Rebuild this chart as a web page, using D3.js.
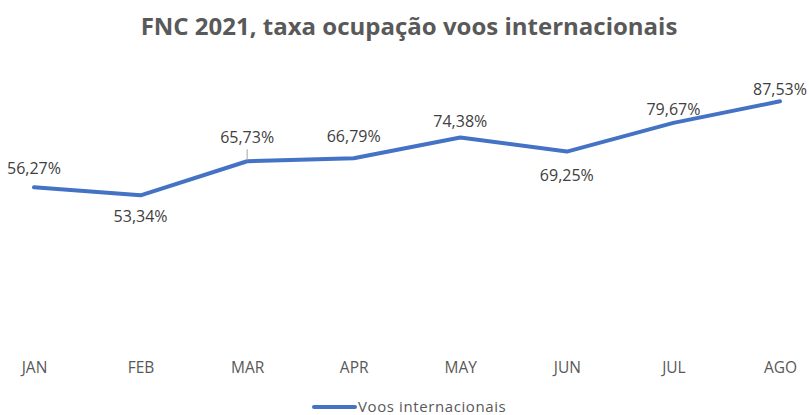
<!DOCTYPE html>
<html>
<head>
<meta charset="utf-8">
<script src="https://cdn.jsdelivr.net/npm/d3@7"></script>
<style>
  body { margin: 0; background: #fff; }
  svg { font-family: "Open Sans", sans-serif; }
</style>
</head>
<body>
<svg id="chart"></svg>
<script>
// data
const months = ["JAN", "FEB", "MAR", "APR", "MAY", "JUN", "JUL", "AGO"];
const occupancy = [56.27, 53.34, 65.73, 66.79, 74.38, 69.25, 79.67, 87.53];
const seriesName = "Voos internacionais";
const title = "FNC 2021, taxa ocupação voos internacionais";

// label placement (baseline offset from point), like the hand-moved excel labels
const labelDy = [-13, 27, -18, -16, -10, 29, -8, -6];

const width = 809, height = 415;

const svg = d3.select("#chart")
    .attr("width", width)
    .attr("height", height);

svg.append("text")
    .attr("x", 409)
    .attr("y", 35)
    .attr("text-anchor", "middle")
    .attr("font-size", "24px")
    .attr("font-weight", "bold")
    .attr("fill", "#595959")
    .text(title);

// scales
const x = d3.scalePoint()
    .domain(months)
    .range([34, 780]);

const y = d3.scaleLinear()
    .domain([0, 100])
    .range([342, 67]);

const data = months.map((m, i) => ({ month: m, value: occupancy[i], dy: labelDy[i] }));

// category axis, no line or ticks
const xAxis = svg.append("g")
    .attr("transform", "translate(0, 361)")
    .call(d3.axisBottom(x).tickSize(0).tickPadding(0));
xAxis.select(".domain").remove();
xAxis.selectAll("text")
    .attr("font-family", "Open Sans, sans-serif")
    .attr("font-size", "15.5px")
    .attr("fill", "#595959")
    .attr("dy", "0.75em");

// line
const line = d3.line()
    .x(d => x(d.month))
    .y(d => y(d.value));

svg.append("path")
    .datum(data)
    .attr("fill", "none")
    .attr("stroke", "#4472C4")
    .attr("stroke-width", 4)
    .attr("stroke-linecap", "round")
    .attr("stroke-linejoin", "round")
    .attr("d", line);

// leader line for MAR label
svg.append("line")
    .attr("x1", x("MAR"))
    .attr("x2", x("MAR"))
    .attr("y1", y(occupancy[2]) - 12)
    .attr("y2", y(occupancy[2]) - 1)
    .attr("stroke", "#a6a6a6")
    .attr("stroke-width", 1);

// data labels
svg.selectAll(".label")
    .data(data)
    .enter()
    .append("text")
        .attr("class", "label")
        .attr("x", d => x(d.month))
        .attr("y", d => y(d.value) + d.dy)
        .attr("text-anchor", "middle")
        .attr("font-size", "16px")
        .attr("fill", "#404040")
        .text(d => d.value.toFixed(2).replace(".", ",") + "%");

// legend
const legend = svg.append("g");
legend.append("line")
    .attr("x1", 314)
    .attr("x2", 355)
    .attr("y1", 407)
    .attr("y2", 407)
    .attr("stroke", "#4472C4")
    .attr("stroke-width", 4)
    .attr("stroke-linecap", "round");
legend.append("text")
    .attr("x", 358)
    .attr("y", 412)
    .attr("font-size", "15px")
    .attr("letter-spacing", "0.6px")
    .attr("fill", "#595959")
    .text(seriesName);
</script>
</body>
</html>
